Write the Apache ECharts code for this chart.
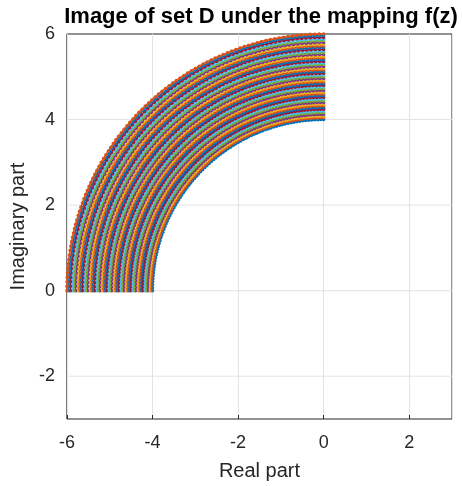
<!DOCTYPE html>
<html>
<head>
<meta charset="utf-8">
<script src="https://cdn.jsdelivr.net/npm/echarts@6/dist/echarts.min.js"></script>
<style>html,body{margin:0;padding:0;background:#fff}#c{width:462px;height:486px}</style>
</head>
<body>
<div id="c"></div>
<script>
// Radii of the arcs (|w|): 4 to 6
const radii = [4.00,4.04,4.08,4.12,4.16,4.20,4.24,4.28,4.32,4.36,4.40,4.44,4.48,4.52,4.56,4.60,4.64,4.68,4.72,4.76,4.80,4.84,4.88,4.92,4.96,5.00,5.04,5.08,5.12,5.16,5.20,5.24,5.28,5.32,5.36,5.40,5.44,5.48,5.52,5.56,5.60,5.64,5.68,5.72,5.76,5.80,5.84,5.88,5.92,5.96,6.00];
// Arguments of the points along each arc, degrees (second quadrant)
const anglesDeg = [90,91,92,93,94,95,96,97,98,99,100,101,102,103,104,105,106,107,108,109,110,111,112,113,114,115,116,117,118,119,120,121,122,123,124,125,126,127,128,129,130,131,132,133,134,135,136,137,138,139,140,141,142,143,144,145,146,147,148,149,150,151,152,153,154,155,156,157,158,159,160,161,162,163,164,165,166,167,168,169,170,171,172,173,174,175,176,177,178,179,180];
const xTicks = [-6,-4,-2,0,2];
const yTicks = [-2,0,2,4,6];
const xRange = [-6, 3];
const yRange = [-3, 6];
const palette = ['#0072BD','#D95319','#EDB120','#7E2F8E','#77AC30','#4DBEEE','#A2142F'];
const titleText = 'Image of set D under the mapping f(z)';
const xName = 'Real part';
const yName = 'Imaginary part';

const FONT = 'Liberation Sans, Arial, sans-serif';
const series = [];
// horizontal grid lines (behind the data)
yTicks.filter(v => v > yRange[0] && v < yRange[1]).forEach(v => {
  series.push({
    type: 'line', data: [[xRange[0], v], [xRange[1], v]], z: 1, silent: true,
    showSymbol: false, symbol: 'none', color: '#e3e3e3',
    lineStyle: {width: 1, color: '#e3e3e3'}, emphasis: {disabled: true}, animation: false
  });
});
radii.forEach((r, i) => {
  const pts = anglesDeg.map(a => {
    const t = a * Math.PI / 180;
    return [r * Math.cos(t), r * Math.sin(t)];
  });
  series.push({
    type: 'line', data: pts, z: 2,
    showSymbol: true, showAllSymbol: true, symbol: 'circle', symbolSize: 3.5,
    color: palette[i % palette.length],
    lineStyle: {width: 1.6},
    itemStyle: {borderWidth: 0},
    emphasis: {disabled: true},
    animation: false, silent: true
  });
});

const chart = echarts.init(document.getElementById('c'), null, {renderer: 'canvas'});
chart.setOption({
  animation: false,
  backgroundColor: '#fff',
  title: {
    text: titleText, left: 256, top: 1, textAlign: 'center',
    textStyle: {fontFamily: FONT, fontSize: 22, fontWeight: 'bold', color: '#000'}
  },
  grid: {left: 64, right: 10, top: 34, bottom: 56, show: true, borderColor: '#262626', borderWidth: 1, backgroundColor: 'transparent'},
  xAxis: {
    type: 'value', min: xRange[0], max: xRange[1], interval: 2,
    name: xName, nameLocation: 'middle', nameGap: 42,
    nameTextStyle: {fontFamily: FONT, fontSize: 20, color: '#262626'},
    axisLine: {show: false, onZero: false},
    axisTick: {show: true, inside: true, length: 4, lineStyle: {color: '#262626'}},
    axisLabel: {fontFamily: FONT, fontSize: 18, color: '#262626', margin: 15, showMaxLabel: false,
      formatter: v => xTicks.includes(v) ? String(v) : ''},
    splitLine: {show: true, lineStyle: {color: '#e3e3e3', width: 1}}
  },
  yAxis: {
    type: 'value', min: yRange[0], max: yRange[1], interval: 1,
    name: yName, nameLocation: 'middle', nameGap: 38,
    nameTextStyle: {fontFamily: FONT, fontSize: 20, color: '#262626'},
    axisLine: {show: false, onZero: false},
    axisTick: {show: false},
    axisLabel: {fontFamily: FONT, fontSize: 18, color: '#262626', margin: 12,
      formatter: v => yTicks.includes(v) ? String(v) : ''},
    splitLine: {show: false}
  },
  series: series
});
</script>
</body>
</html>
